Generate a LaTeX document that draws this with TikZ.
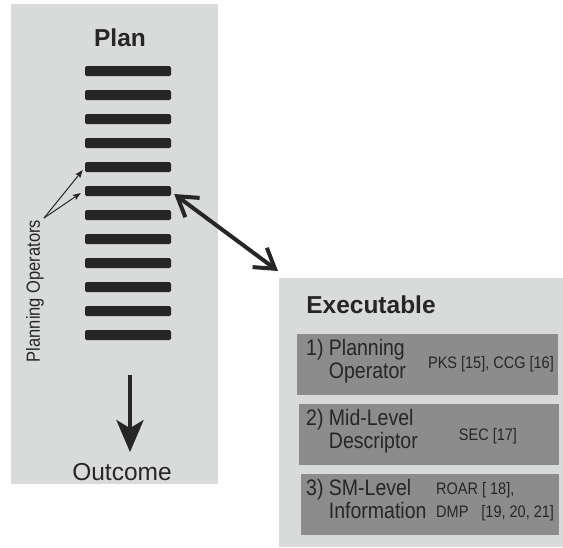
\documentclass[tikz,border=0pt]{standalone}
\usepackage{fontspec}
\setmainfont{Liberation Sans}
\usetikzlibrary{arrows.meta,positioning}
\definecolor{panelgray}{RGB}{217,219,219}
\definecolor{boxgray}{RGB}{140,140,140}
\definecolor{inkgray}{RGB}{38,38,38}
\newcommand{\tallbox}[1]{\scalebox{1}[1.15]{#1}}
\newcommand{\twolines}[2]{\tallbox{\begin{tabular}{@{}l@{}}#1\\#2\end{tabular}}}
\begin{document}
\begin{tikzpicture}[x=1pt,y=-1pt,
    panel/.style={fill=panelgray,inner sep=0,outer sep=0,anchor=north west},
    opbar/.style={fill=inkgray,minimum width=86pt,minimum height=10pt,inner sep=0,rounded corners=1.5pt},
    levelbox/.style={fill=boxgray,minimum height=61pt,inner sep=0},
    title/.style={text=inkgray,font=\fontsize{24.5}{29}\selectfont\bfseries},
    lvltext/.style={text=inkgray,inner sep=0,anchor=west,font=\fontsize{19.5}{20}\selectfont},
    reftext/.style={text=inkgray,inner sep=0,font=\fontsize{14.5}{20}\selectfont},
    pointer/.style={draw=inkgray,line width=1pt,-{Stealth[length=8pt,width=6pt,inset=1.5pt]}},
    link/.style={draw=inkgray,line width=4pt,{Straight Barb[length=19pt,width=24pt]}-{Straight Barb[length=19pt,width=24pt]}},
    flow/.style={draw=inkgray,line width=4.3pt,-{Stealth[length=32pt,width=27pt,inset=8pt]}}]
  \useasboundingbox (0,0) rectangle (563,547);
  % panels
  \node[panel,minimum width=207pt,minimum height=480pt] (plan) at (11,4) {};
  \node[panel,minimum width=284pt,minimum height=269pt] (exec) at (279,278) {};
  % plan side
  \node[title] (plantitle) at (120,38) {Plan};
  \foreach \i in {1,...,12}
    \node[opbar] (op\i) at (128,{71+24*(\i-1)}) {};
  \node[text=inkgray,rotate=90,inner sep=0,font=\fontsize{16.5}{20}\selectfont] (oplabel) at (35,291) {\tallbox{Planning Operators}};
  \coordinate (opfoot) at (44,218);
  \draw[pointer] (opfoot) -- ([xshift=-2pt,yshift=-3pt]op5.west);
  \draw[pointer] (opfoot) -- ([xshift=-4pt,yshift=-2pt]op6.west);
  \coordinate (flowtop) at (130,375);
  \node[text=inkgray,inner sep=0,font=\fontsize{24.5}{29}\selectfont] (outcome) at (122,472) {Outcome};
  \draw[flow,shorten >=11pt] (flowtop) -- (flowtop |- outcome.north);
  % executable side
  \node[title] (exectitle) at (371,305) {Executable};
  \node[levelbox,minimum width=261pt] (b1) at (427.5,364.5) {};
  \node[levelbox,minimum width=260pt] (b2) at (429,434.5) {};
  \node[levelbox,minimum width=258pt] (b3) at (430,504.5) {};
  \node[lvltext] (l1) at (306,362) {\twolines{1) Planning}{\hphantom{1) }Operator}};
  \node[lvltext] (l2) at (306,432) {\twolines{2) Mid-Level}{\hphantom{2) }Descriptor}};
  \node[lvltext] (l3) at (306,502) {\twolines{3) SM-Level}{\hphantom{3) }Information}};
  \node[reftext,anchor=east] (r1) at (554,364) {\tallbox{PKS [15], CCG [16]}};
  \node[reftext] (r2) at (488,436) {\tallbox{SEC [17]}};
  \node[reftext,anchor=west] (r3) at (436,501.5) {\twolines{ROAR [ 18],}{DMP \hspace{9pt}[19, 20, 21]}};
  % plan <-> executable
  \draw[link] ([xshift=3pt,yshift=-3pt]op6.east) -- ([xshift=-1pt,yshift=7pt]exec.north west);
\end{tikzpicture}
\end{document}
